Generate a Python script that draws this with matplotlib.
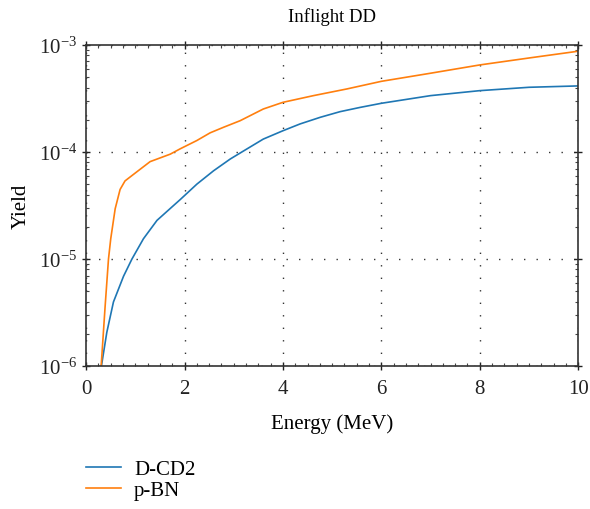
#import necessary libraries
import matplotlib
matplotlib.use("Agg")
import matplotlib.pyplot as plt
from matplotlib.ticker import MultipleLocator, LogLocator

#serif fonts to look like the original
plt.rcParams['font.family'] = ['Liberation Serif', 'DejaVu Serif']
plt.rcParams['mathtext.fontset'] = 'stix'

#data
energy_dcd2 = [0.31, 0.42, 0.555, 0.76, 0.93, 1.165, 1.44, 1.775, 1.91, 2.25, 2.59, 2.93,
               3.27, 3.60, 4.0, 4.35, 4.76, 5.16, 5.57, 6.0, 7.0, 8.0, 9.0, 10.0]
yield_dcd2 = [1.0e-6, 2.07e-6, 3.98e-6, 6.92e-6, 1.0e-5, 1.55e-5, 2.3e-5, 3.16e-5, 3.59e-5,
              5.01e-5, 6.68e-5, 8.61e-5, 1.07e-4, 1.32e-4, 1.58e-4, 1.83e-4, 2.11e-4, 2.38e-4,
              2.61e-4, 2.85e-4, 3.36e-4, 3.74e-4, 4.02e-4, 4.14e-4]

energy_pbn = [0.305, 0.386, 0.454, 0.50, 0.59, 0.69, 0.79, 0.96, 1.30, 1.71, 1.91, 2.25,
              2.52, 2.79, 3.13, 3.60, 4.0, 4.62, 5.30, 6.0, 6.99, 8.0, 9.02, 10.0]
yield_pbn = [1.0e-6, 3.63e-6, 1.0e-5, 1.55e-5, 2.95e-5, 4.47e-5, 5.37e-5, 6.17e-5, 8.13e-5,
             9.55e-5, 1.07e-4, 1.28e-4, 1.51e-4, 1.70e-4, 1.96e-4, 2.52e-4, 2.91e-4, 3.36e-4,
             3.88e-4, 4.57e-4, 5.43e-4, 6.50e-4, 7.57e-4, 8.73e-4]

#figure and axes position
fig = plt.figure(figsize=(5.9, 5.1), dpi=100)
ax = fig.add_axes([0.146, 0.28, 0.834, 0.63])

#draw the two curves
ax.plot(energy_dcd2, yield_dcd2, color='#1f77b4', lw=1.2, label='D-CD2')
ax.plot(energy_pbn, yield_pbn, color='#ff7f0e', lw=1.2, label='p-BN')

#axes settings
ax.set_yscale('log')
ax.set_xlim(0, 10)
ax.set_ylim(1e-6, 1e-3)
ax.xaxis.set_major_locator(MultipleLocator(2))
ax.xaxis.set_minor_locator(MultipleLocator(0.25))
ax.yaxis.set_minor_locator(LogLocator(base=10, subs=range(2, 10)))

#dotted grid at the major ticks
ax.grid(True, which='major', color='#333333', linestyle=(0, (1, 8)), linewidth=1)

#ticks on all four sides
ax.tick_params(which='major', direction='inout', length=6, width=1, labelsize=15,
               top=True, right=True, colors='#222222')
ax.tick_params(axis='x', which='major', pad=6)
ax.tick_params(which='minor', direction='in', length=2.5, width=0.8,
               top=True, right=True, colors='#444444')
for s in ax.spines.values():
    s.set_color('#333333')
    s.set_linewidth(1.2)

#title and labels
ax.set_title('Inflight DD', fontsize=13.5, pad=17)
ax.set_xlabel('Energy (MeV)', fontsize=15, labelpad=11)
ax.set_ylabel('Yield', fontsize=15, labelpad=6)

#legend below the plot
fig.legend(loc='upper left', bbox_to_anchor=(0.146, 0.097), frameon=False,
           fontsize=15, handlelength=1.65, handletextpad=0.65, labelspacing=0.08,
           borderpad=0, borderaxespad=0)

#save the figure
fig.savefig('out.png', dpi=100)
